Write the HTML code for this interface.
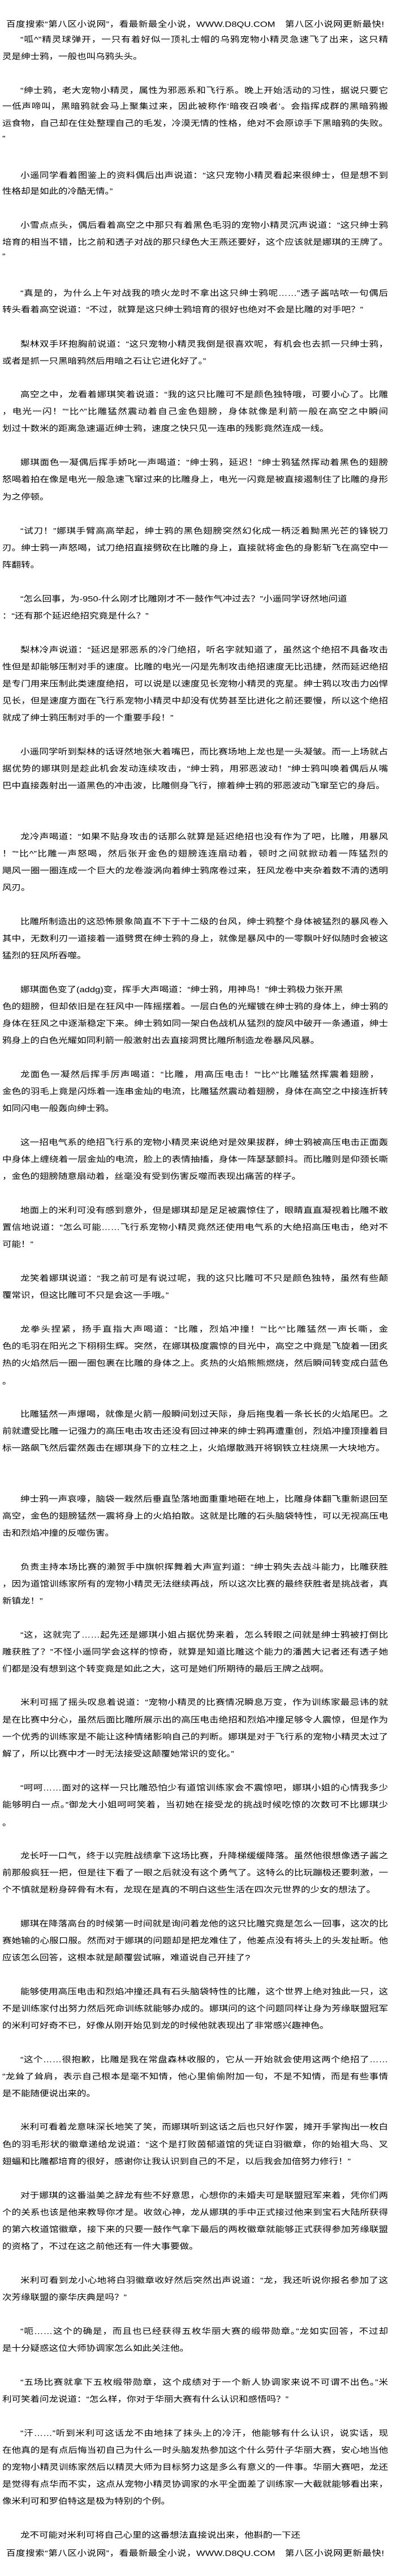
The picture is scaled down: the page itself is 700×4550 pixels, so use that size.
<!DOCTYPE html>
<html><head><meta charset="utf-8">
<style>
html,body{margin:0;padding:0;background:#fff;}
body{width:700px;height:4550px;position:relative;overflow:hidden;font-family:"Liberation Sans","WenQuanYi Zen Hei","Noto Sans CJK SC",sans-serif;font-size:16.5px;color:#000;}
.l{position:absolute;height:30px;line-height:30px;white-space:nowrap;transform:scaleY(0.85);transform-origin:50% 50%;}
.n{left:4px;}
.i{left:36px;}
.h{left:11px;width:668px;text-align:justify;text-align-last:justify;}
.n.j{width:682px;text-align:justify;text-align-last:justify;}
.i.j{width:650px;text-align:justify;text-align-last:justify;}
</style></head><body>
<div class="l h" style="top:28px">百度搜索“第八区小说网”，看最新最全小说，WWW.D8QU.COM　第八区小说网更新最快!</div>
<div class="l i j" style="top:55px">“呱^”精灵球弹开，一只有着好似一顶礼士帽的乌鸦宠物小精灵急速飞了出来，这只精</div>
<div class="l n" style="top:85px">灵是绅士鸦，一般也叫乌鸦头头。</div>
<div class="l i j" style="top:145px">“绅士鸦，老大宠物小精灵，属性为邪恶系和飞行系。晚上开始活动的习性，据说只要它</div>
<div class="l n j" style="top:173px">一低声啼叫，黑暗鸦就会马上聚集过来，因此被称作‘暗夜召唤者’。会指挥成群的黑暗鸦搬</div>
<div class="l n j" style="top:203px">运食物，自己却在住处整理自己的毛发，冷漠无情的性格，绝对不会原谅手下黑暗鸦的失败。</div>
<div class="l n" style="top:230px">”</div>
<div class="l i j" style="top:295px">小遥同学看着图鉴上的资料偶后出声说道：“这只宠物小精灵看起来很绅士，但是想不到</div>
<div class="l n" style="top:323px">性格却是如此的冷酷无情。”</div>
<div class="l i j" style="top:383px">小雪点点头，偶后看着高空之中那只有着黑色毛羽的宠物小精灵沉声说道：“这只绅士鸦</div>
<div class="l n j" style="top:413px">培育的相当不错，比之前和透子对战的那只绿色大王燕还要好，这个应该就是娜琪的王牌了。</div>
<div class="l n" style="top:438px">”</div>
<div class="l i j" style="top:503px">“真是的，为什么上午对战我的喷火龙时不拿出这只绅士鸦呢……”透子酱咕哝一句偶后</div>
<div class="l n" style="top:532px">转头看着高空说道：“不过，就算是这只绅士鸦培育的很好也绝对不会是比雕的对手吧？”</div>
<div class="l i j" style="top:593px">梨林双手环抱胸前说道：“这只宠物小精灵我倒是很喜欢呢，有机会也去抓一只绅士鸦，</div>
<div class="l n" style="top:623px">或者是抓一只黑暗鸦然后用暗之石让它进化好了。”</div>
<div class="l i j" style="top:682px">高空之中，龙看着娜琪笑着说道：“我的这只比雕可不是颜色独特哦，可要小心了。比雕</div>
<div class="l n j" style="top:712px">，电光一闪！”“比^”比雕猛然震动着自己金色翅膀，身体就像是利箭一般在高空之中瞬间</div>
<div class="l n" style="top:742px">划过十数米的距离急速逼近绅士鸦，速度之快只见一连串的残影竟然连成一线。</div>
<div class="l i j" style="top:802px">娜琪面色一凝偶后挥手娇叱一声喝道：“绅士鸦，延迟！”绅士鸦猛然挥动着黑色的翅膀</div>
<div class="l n j" style="top:832px">怒喝着拍在像是电光一般急速飞窜过来的比雕身上，电光一闪竟是被直接遏制住了比雕的身形</div>
<div class="l n" style="top:863px">为之停顿。</div>
<div class="l i j" style="top:923px">“试刀！”娜琪手臂高高举起，绅士鸦的黑色翅膀突然幻化成一柄泛着黝黑光芒的锋锐刀</div>
<div class="l n j" style="top:953px">刃。绅士鸦一声怒喝，试刀绝招直接劈砍在比雕的身上，直接就将金色的身影斩飞在高空中一</div>
<div class="l n" style="top:983px">阵翻转。</div>
<div class="l i" style="top:1043px">“怎么回事，为-950-什么刚才比雕刚才不一鼓作气冲过去？”小遥同学讶然地问道</div>
<div class="l n" style="top:1073px">：“还有那个延迟绝招究竟是什么？”</div>
<div class="l i j" style="top:1133px">梨林冷声说道：“延迟是邪恶系的冷门绝招，听名字就知道了，虽然这个绝招不具备攻击</div>
<div class="l n j" style="top:1163px">性但是却能够压制对手的速度。比雕的电光一闪是先制攻击绝招速度无比迅捷，然而延迟绝招</div>
<div class="l n j" style="top:1193px">是专门用来压制此类速度绝招，可以说是以速度见长宠物小精灵的克星。绅士鸦以攻击力凶悍</div>
<div class="l n j" style="top:1223px">见长，但是速度方面在飞行系宠物小精灵中却没有优势甚至比进化之前还要慢，所以这个绝招</div>
<div class="l n" style="top:1253px">就成了绅士鸦压制对手的一个重要手段！”</div>
<div class="l i j" style="top:1313px">小遥同学听到梨林的话讶然地张大着嘴巴，而比赛场地上龙也是一头凝皱。而一上场就占</div>
<div class="l n j" style="top:1343px">据优势的娜琪则是趁此机会发动连续攻击，“绅士鸦，用邪恶波动！”绅士鸦叫唤着偶后从嘴</div>
<div class="l n" style="top:1373px">巴中直接轰射出一道黑色的冲击波，比雕侧身飞行，擦着绅士鸦的邪恶波动飞窜至它的身后。</div>
<div class="l i j" style="top:1463px">龙冷声喝道：“如果不贴身攻击的话那么就算是延迟绝招也没有作为了吧，比雕，用暴风</div>
<div class="l n j" style="top:1493px">！”“比^”比雕一声怒喝，然后张开金色的翅膀连连扇动着，顿时之间就掀动着一阵猛烈的</div>
<div class="l n j" style="top:1523px">飓风一圈一圈连成一个巨大的龙卷漩涡向着绅士鸦席卷过来，狂风龙卷中夹杂着数不清的透明</div>
<div class="l n" style="top:1553px">风刃。</div>
<div class="l i j" style="top:1613px">比雕所制造出的这恐怖景象简直不下于十二级的台风，绅士鸦整个身体被猛烈的暴风卷入</div>
<div class="l n j" style="top:1643px">其中，无数利刃一道接着一道劈贯在绅士鸦的身上，就像是暴风中的一零飘叶好似随时会被这</div>
<div class="l n" style="top:1673px">猛烈的狂风所吞噬。</div>
<div class="l i" style="top:1733px">娜琪面色变了(addg)变，挥手大声喝道：“绅士鸦，用神鸟！”绅士鸦极力张开黑</div>
<div class="l n j" style="top:1763px">色的翅膀，但却依旧是在狂风中一阵摇摆着。一层白色的光耀镀在绅士鸦的身体上，绅士鸦的</div>
<div class="l n j" style="top:1793px">身体在狂风之中逐渐稳定下来。绅士鸦如同一架白色战机从猛烈的旋风中破开一条通道，绅士</div>
<div class="l n" style="top:1823px">鸦身上的白色光耀如同利箭一般激射出去直接洞贯比雕所制造龙卷暴风风暴。</div>
<div class="l i" style="top:1883px;width:634px;text-align:justify;text-align-last:justify">龙面色一凝然后挥手厉声喝道：“比雕，用高压电击！”“比^”比雕猛然挥震着翅膀，</div>
<div class="l n j" style="top:1913px">金色的羽毛上竟是闪烁着一连串金灿的电流，比雕猛然震动着翅膀，身体在高空之中接连折转</div>
<div class="l n" style="top:1943px">如同闪电一般轰向绅士鸦。</div>
<div class="l i j" style="top:2003px">这一招电气系的绝招飞行系的宠物小精灵来说绝对是效果拔群，绅士鸦被高压电击正面轰</div>
<div class="l n j" style="top:2033px">中身体上缠绕着一层金灿的电流，脸上的表情抽搐，身体一阵瑟瑟颤抖。而比雕则是仰颈长嘶</div>
<div class="l n" style="top:2063px">，金色的翅膀随意扇动着，丝毫没有受到伤害反噬而表现出痛苦的样子。</div>
<div class="l i j" style="top:2123px">地面上的米利可没有感到意外，但是娜琪却是足足被震惊住了，眼睛直直凝视着比雕不敢</div>
<div class="l n j" style="top:2153px">置信地说道：“怎么可能……飞行系宠物小精灵竟然还使用电气系的大绝招高压电击，绝对不</div>
<div class="l n" style="top:2183px">可能！”</div>
<div class="l i j" style="top:2243px">龙笑着娜琪说道：“我之前可是有说过呢，我的这只比雕可不只是颜色独特，虽然有些颠</div>
<div class="l n" style="top:2273px">覆常识，但这比雕可不只是会这一手哦。”</div>
<div class="l i j" style="top:2333px">龙拳头捏紧，扬手直指大声喝道：“比雕，烈焰冲撞！”“比^”比雕猛然一声长嘶，金</div>
<div class="l n j" style="top:2363px">色的毛羽在阳光之下栩栩生辉。突然，在娜琪极度震惊的目光中，高空之中竟是飞旋着一团炙</div>
<div class="l n j" style="top:2393px">热的火焰然后一圈一圈包裹在比雕的身体之上。炙热的火焰熊熊燃烧，然后瞬间转变成白蓝色</div>
<div class="l n" style="top:2425px">。</div>
<div class="l i j" style="top:2483px">比雕猛然一声爆喝，就像是火箭一般瞬间划过天际，身后拖曳着一条长长的火焰尾巴。之</div>
<div class="l n j" style="top:2513px">前就遭受比雕一记强力的高压电击攻击还没有回过神来的绅士鸦再遭重创，烈焰冲撞顶撞着目</div>
<div class="l n" style="top:2543px">标一路飙飞然后霍然轰击在娜琪身下的立柱之上，火焰爆散溅开将钢铁立柱烧黑一大块地方。</div>
<div class="l i j" style="top:2633px">绅士鸦一声哀嚎，脑袋一栽然后垂直坠落地面重重地砸在地上，比雕身体翻飞重新退回至</div>
<div class="l n j" style="top:2663px">高空，金色的翅膀猛然一震将身上的火焰拍散。这就是比雕的石头脑袋特性，可以无视高压电</div>
<div class="l n" style="top:2693px">击和烈焰冲撞的反噬伤害。</div>
<div class="l i j" style="top:2753px">负责主持本场比赛的濑贺手中旗帜挥舞着大声宣判道：“绅士鸦失去战斗能力，比雕获胜</div>
<div class="l n j" style="top:2783px">，因为道馆训练家所有的宠物小精灵无法继续再战，所以这次比赛的最终获胜者是挑战者，真</div>
<div class="l n" style="top:2813px">新镇龙！”</div>
<div class="l i j" style="top:2873px">“这，这就完了……起先还是娜琪小姐占据优势来着，怎么转眼之间就是绅士鸦被打倒比</div>
<div class="l n j" style="top:2903px">雕获胜了？”不怪小遥同学会这样的惊奇，就算是知道比雕这个能力的潘茜大记者还有透子她</div>
<div class="l n" style="top:2933px">们都是没有想到这个转变竟是如此之大，这可是她们所期待的最后王牌之战啊。</div>
<div class="l i j" style="top:2992px">米利可摇了摇头叹息着说道：“宠物小精灵的比赛情况瞬息万变，作为训练家最忌讳的就</div>
<div class="l n j" style="top:3023px">是在比赛中分心，虽然后面比雕所展示出的高压电击绝招和烈焰冲撞足够令人震惊，但是作为</div>
<div class="l n j" style="top:3053px">一个优秀的训练家是不能让这种情绪影响自己的判断。娜琪是对于飞行系的宠物小精灵太过了</div>
<div class="l n" style="top:3083px">解了，所以比赛中才一时无法接受这颠覆她常识的变化。”</div>
<div class="l i j" style="top:3143px">“呵呵……面对的这样一只比雕恐怕少有道馆训练家会不震惊吧，娜琪小姐的心情我多少</div>
<div class="l n j" style="top:3173px">能够明白一点。”御龙大小姐呵呵笑着，当初她在接受龙的挑战时候吃惊的次数可不比娜琪少</div>
<div class="l n" style="top:3205px">。</div>
<div class="l i j" style="top:3263px">龙长吁一口气，终于以完胜战绩拿下这场比赛，升降梯缓缓降落。虽然他很想像透子酱之</div>
<div class="l n j" style="top:3293px">前那般疯狂一把，但是往下看了一眼之后就没有这个勇气了。这特么的比玩蹦极还要刺激，一</div>
<div class="l n" style="top:3323px">个不慎就是粉身碎骨有木有，龙现在是真的不明白这些生活在四次元世界的少女的想法了。</div>
<div class="l i j" style="top:3383px">娜琪在降落高台的时候第一时间就是询问着龙他的这只比雕究竟是怎么一回事，这次的比</div>
<div class="l n j" style="top:3413px">赛她输的心服口服。然而对于娜琪的问题却是把龙难住了，他差点没有将头上的头发扯断。他</div>
<div class="l n" style="top:3443px">应该怎么回答，这根本就是颠覆尝试嘛，难道说自己开挂了?</div>
<div class="l i j" style="top:3503px">能够使用高压电击和烈焰冲撞还具有石头脑袋特性的比雕，这个世界上绝对独此一只，这</div>
<div class="l n j" style="top:3533px">不是训练家付出努力然后死命训练就能够办成的。娜琪问的这个问题同样让身为芳缘联盟冠军</div>
<div class="l n" style="top:3563px">的米利可好奇不已，好像从刚开始见到龙的时候他就表现出了非常感兴趣神色。</div>
<div class="l i j" style="top:3623px">“这个……很抱歉，比雕是我在常盘森林收服的，它从一开始就会使用这两个绝招了……</div>
<div class="l n j" style="top:3653px">”龙耸了耸肩，表示自己根本是毫不知情，他心里偷偷附加一句，不是不知情，而是有些事情</div>
<div class="l n" style="top:3683px">是不能随便说出来的。</div>
<div class="l i j" style="top:3742px">米利可看着龙意味深长地笑了笑，而娜琪听到这话之后也只好作罢，摊开手掌掏出一枚白</div>
<div class="l n j" style="top:3773px">色的羽毛形状的徽章递给龙说道：“这个是打败茵郁道馆的凭证白羽徽章，你的始祖大鸟、叉</div>
<div class="l n" style="top:3803px">翅蝠和比雕都培育的很好，感谢你让我认识到自己的不足，以后我会加倍努力修行！”</div>
<div class="l i j" style="top:3863px">对于娜琪的这番溢美之辞龙有些不好意思，心想你的未婚夫可是联盟冠军来着，凭你们两</div>
<div class="l n j" style="top:3893px">个的关系也该是他来教导你才是。收敛心神，龙从娜琪的手中正式接过他来到宝石大陆所获得</div>
<div class="l n j" style="top:3923px">的第六枚道馆徽章，接下来的只要一鼓作气拿下最后的两枚徽章就能够正式获得参加芳缘联盟</div>
<div class="l n" style="top:3953px">的资格了，不过在这之前他还有一件大事要做。</div>
<div class="l i j" style="top:4013px">米利可看到龙小心地将白羽徽章收好然后突然出声说道：“龙，我还听说你报名参加了这</div>
<div class="l n" style="top:4043px">次芳缘联盟的豪华庆典是吗？”</div>
<div class="l i j" style="top:4103px">“呃……这个的确是，而且也已经获得五枚华丽大赛的缎带勋章。”龙如实回答，不过却</div>
<div class="l n" style="top:4133px">是十分疑惑这位大师协调家怎么如此关注他。</div>
<div class="l i j" style="top:4193px">“五场比赛就拿下五枚缎带勋章，这个成绩对于一个新人协调家来说不可谓不出色。”米</div>
<div class="l n" style="top:4223px">利可笑着问龙说道：“怎么样，你对于华丽大赛有什么认识和感悟吗？”</div>
<div class="l i j" style="top:4283px">“汗……”听到米利可这话龙不由地抹了抹头上的冷汗，他能够有什么认识，说实话，现</div>
<div class="l n j" style="top:4313px">在他真的是有点后悔当初自己为什么一时头脑发热参加这个什么劳什子华丽大赛，安心地当他</div>
<div class="l n j" style="top:4343px">的宠物小精灵训练家然后以精灵大师为目标努力这是多么有意义的一件事。华丽大赛吧，龙还</div>
<div class="l n j" style="top:4373px">是觉得有点华而不实，这点从宠物小精灵协调家的水平全面差了训练家一大截就能够看出来，</div>
<div class="l n" style="top:4403px">像米利可和罗伯特这是极为特别的个例。</div>
<div class="l i" style="top:4463px">龙不可能对米利可将自己心里的这番想法直接说出来，他斟酌一下还</div>
<div class="l h" style="top:4495px">百度搜索“第八区小说网”，看最新最全小说，WWW.D8QU.COM　第八区小说网更新最快!</div>
</body></html>
